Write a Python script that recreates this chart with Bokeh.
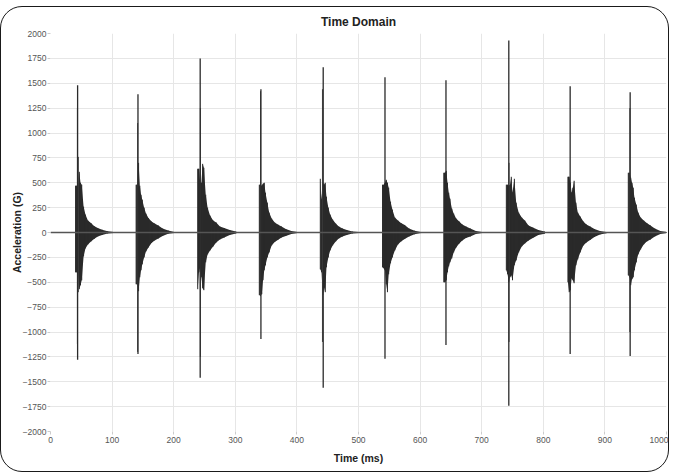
from bokeh.plotting import figure
from bokeh.models import Range1d, FixedTicker, Span, ColumnDataSource
from bokeh.embed import file_html
from bokeh.resources import INLINE

# ---- data ----
x_ticks = [0, 100, 200, 300, 400, 500, 600, 700, 800, 900, 1000]
y_ticks = [-2000, -1750, -1500, -1250, -1000, -750, -500, -250, 0, 250, 500, 750, 1000, 1250, 1500, 1750, 2000]

# impact bursts: onset (ms), main spike time (ms), spike max / min (G)
burst_onset = [40.7, 139, 239, 339, 438, 539, 638.5, 740, 840, 938]
spike_t = [44, 142, 243, 341.6, 442.7, 543, 642, 744, 843.6, 941]
spike_max = [1480, 1390, 1750, 1440, 1660, 1560, 1530, 1930, 1470, 1410]
spike_min = [-1280, -1220, -1460, -1070, -1560, -1270, -1130, -1740, -1220, -1240]

# secondary spikes
sec_t = [43.7, 45.2, 141.5, 243.3, 341.0, 441.5, 940.5, 744.4]
sec_max = [1250, 760, 1100, 1250, 1420, 1440, 1250, 700]
sec_min = [-1120, -600, -1200, -1250, -640, -1100, -1000, -1100]

# envelope sample offsets after onset (ms)
env_offset = [0, 2, 4, 6, 8, 10, 13, 16, 20, 25, 30, 36, 43, 52, 62]
env_upper = [
    [470, 470, 480, 610, 500, 480, 260, 180, 120, 95, 65, 45, 28, 12, 4],
    [480, 480, 700, 470, 380, 330, 250, 190, 145, 110, 90, 70, 40, 20, 5],
    [640, 640, 500, 500, 690, 650, 380, 250, 170, 120, 100, 60, 45, 25, 10],
    [480, 480, 470, 490, 500, 400, 300, 200, 140, 100, 80, 60, 35, 15, 5],
    [540, 330, 500, 480, 500, 360, 250, 180, 130, 90, 60, 40, 25, 10, 4],
    [480, 480, 500, 530, 500, 450, 310, 230, 150, 120, 95, 75, 40, 18, 5],
    [600, 600, 620, 500, 400, 340, 240, 190, 140, 110, 80, 60, 40, 15, 5],
    [480, 480, 470, 480, 560, 400, 540, 300, 200, 150, 120, 70, 50, 25, 10],
    [560, 560, 500, 400, 450, 520, 300, 200, 160, 110, 80, 60, 35, 15, 5],
    [600, 600, 550, 500, 450, 350, 280, 200, 150, 120, 95, 70, 40, 15, 5],
]
env_lower = [
    [-400, -400, -420, -570, -530, -480, -240, -160, -120, -90, -65, -40, -25, -10, -4],
    [-520, -520, -590, -450, -380, -320, -250, -190, -150, -105, -80, -60, -35, -12, -4],
    [-570, -400, -350, -450, -560, -580, -300, -220, -180, -140, -100, -70, -50, -25, -10],
    [-630, -630, -620, -480, -380, -330, -250, -200, -130, -95, -75, -50, -35, -15, -5],
    [-370, -400, -630, -550, -600, -350, -250, -180, -130, -90, -60, -40, -25, -10, -4],
    [-350, -360, -380, -520, -600, -420, -310, -250, -180, -120, -90, -65, -40, -18, -6],
    [-500, -500, -480, -400, -340, -300, -260, -200, -150, -110, -80, -55, -40, -15, -5],
    [-380, -420, -500, -450, -430, -480, -330, -280, -200, -140, -110, -80, -55, -25, -12],
    [-500, -600, -580, -460, -480, -510, -330, -270, -200, -130, -100, -75, -45, -20, -8],
    [-430, -450, -530, -470, -450, -380, -300, -220, -170, -120, -90, -70, -40, -15, -5],
]

FONT = "Liberation Sans"
INK = "#2a2a2a"

p = figure(width=669, height=466, output_backend="svg", toolbar_location=None,
           x_range=Range1d(0, 1000), y_range=Range1d(-2000, 2000),
           title="Time Domain",
           min_border_left=49, min_border_right=4, min_border_top=21, min_border_bottom=42)
p.styles = {"border": "1.5px solid #1a1a1a", "border-radius": "22px",
            "box-sizing": "border-box", "margin-top": "6px"}

p.title.align = "center"
p.title.text_font = FONT
p.title.text_font_size = "12px"
p.title.text_font_style = "bold"
p.title.text_color = "#222222"
p.title.offset = 0

p.outline_line_color = None
p.background_fill_color = "white"
p.border_fill_color = None

for ax in (p.xaxis[0], p.yaxis[0]):
    ax.axis_line_color = None
    ax.major_tick_line_color = "#cccccc"
    ax.major_tick_out = 3
    ax.major_tick_in = 0
    ax.minor_tick_line_color = None
    ax.major_label_text_font = FONT
    ax.major_label_text_font_size = "8.5px"
    ax.major_label_text_color = "#555555"
    ax.axis_label_text_font = FONT
    ax.axis_label_text_font_size = "10.5px"
    ax.axis_label_text_font_style = "bold"
    ax.axis_label_text_color = "#222222"

p.xaxis.ticker = FixedTicker(ticks=x_ticks)
p.yaxis.ticker = FixedTicker(ticks=y_ticks)
p.xaxis.axis_label = "Time (ms)"
p.yaxis.axis_label = "Acceleration (G)"
p.xaxis.major_label_standoff = 2
p.yaxis.major_label_standoff = 1
p.xaxis.axis_label_standoff = 6
p.yaxis.axis_label_standoff = -3

p.xgrid.grid_line_color = "#e6e6e6"
p.ygrid.grid_line_color = "#e6e6e6"

# baseline (low-level noise between impacts)
p.add_layout(Span(location=0, dimension="width", line_color="#555555", line_width=1.5))

for k in range(len(burst_onset)):
    ts = [burst_onset[k] + o for o in env_offset]
    src = ColumnDataSource(dict(x=ts, y1=env_lower[k], y2=env_upper[k]))
    p.varea(x="x", y1="y1", y2="y2", source=src, fill_color=INK)
    p.segment(x0="x", y0="y1", x1="x", y1="y2", source=src, line_color=INK, line_width=1)

p.segment(x0=sec_t, y0=sec_min, x1=sec_t, y1=sec_max, line_color="#444444", line_width=1)
p.segment(x0=spike_t, y0=spike_min, x1=spike_t, y1=spike_max, line_color=INK, line_width=1.3)

open("out.html", "w").write(file_html(p, INLINE))
